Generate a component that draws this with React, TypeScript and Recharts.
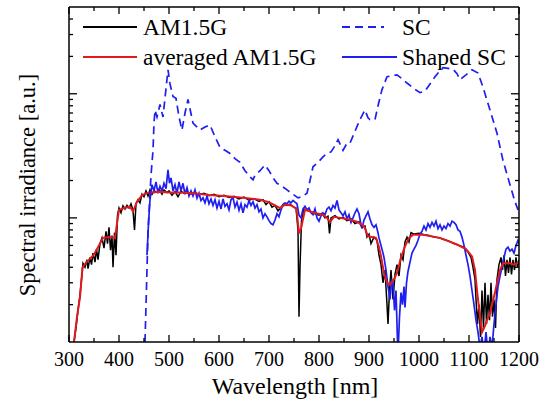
import React from 'react';
import { LineChart, Line, XAxis, YAxis } from 'recharts';

// AM1.5G reference spectrum (noisy)
const amWl = [310, 314, 318, 322, 326, 328, 332, 336, 338, 342, 345, 348, 352, 355, 358, 362, 366, 370, 374, 377, 380, 383, 386, 388, 391, 394, 397, 400, 404, 408, 412, 416, 420, 424, 428, 431, 434, 438, 442, 446, 450, 454, 458, 462, 466, 470, 476, 480, 486, 490, 496, 500, 506, 512, 518, 524, 530, 536, 544, 552, 560, 570, 580, 590, 600, 610, 620, 630, 640, 650, 660, 670, 680, 688, 694, 700, 706, 712, 718, 724, 730, 736, 742, 748, 754, 758, 760, 762, 765, 770, 776, 784, 792, 800, 806, 812, 818, 821, 824, 832, 840, 848, 856, 864, 872, 880, 886, 892, 896, 900, 904, 910, 916, 920, 924, 928, 932, 936, 938, 941, 944, 948, 952, 956, 960, 964, 968, 972, 976, 980, 984, 990, 1000, 1010, 1020, 1030, 1040, 1050, 1060, 1070, 1080, 1090, 1098, 1104, 1108, 1112, 1114, 1117, 1120, 1123, 1126, 1129, 1132, 1135, 1138, 1141, 1144, 1147, 1150, 1153, 1156, 1160, 1164, 1167, 1170, 1173, 1176, 1179, 1182, 1185, 1188, 1191, 1194, 1197, 1200];
const amVal = [1.0, 1.3, 1.8, 2.4, 3.5, 4.3, 4.0, 4.6, 3.9, 4.8, 4.2, 5.2, 4.4, 5.6, 4.6, 6.2, 6.9, 5.7, 7.8, 6.2, 8.4, 5.5, 7.2, 4.0, 7.6, 5.0, 10.5, 12.0, 11.0, 12.5, 11.8, 12.6, 12.0, 13.0, 11.5, 8.0, 13.0, 14.0, 13.2, 15.5, 14.8, 16.5, 15.0, 16.8, 15.5, 16.6, 16.0, 17.0, 15.5, 16.8, 16.0, 16.5, 15.2, 16.3, 14.8, 16.4, 15.8, 16.2, 15.6, 16.0, 15.4, 15.8, 15.1, 15.5, 14.8, 15.2, 14.6, 14.9, 14.2, 14.7, 13.9, 14.3, 13.6, 14.0, 12.8, 13.5, 12.2, 12.6, 11.4, 12.2, 13.0, 12.6, 12.9, 12.3, 12.0, 8.0, 1.6, 4.0, 9.5, 11.8, 11.5, 11.2, 10.8, 10.5, 10.9, 10.0, 10.3, 7.5, 10.0, 10.4, 9.8, 10.1, 9.5, 9.8, 9.0, 9.3, 8.4, 8.6, 7.0, 7.4, 6.2, 7.0, 6.6, 5.0, 4.2, 3.0, 3.8, 2.0, 1.4, 2.6, 3.8, 2.2, 3.5, 4.2, 3.4, 5.0, 4.6, 6.4, 7.0, 6.4, 7.6, 7.4, 7.5, 7.3, 7.2, 7.0, 6.9, 6.7, 6.5, 6.2, 6.0, 5.8, 5.3, 4.8, 4.0, 3.2, 2.2, 1.4, 2.0, 1.1, 2.6, 1.3, 3.0, 1.4, 2.4, 1.5, 3.0, 1.6, 2.2, 1.3, 3.2, 4.2, 4.8, 3.8, 5.0, 3.4, 4.6, 3.6, 4.8, 3.5, 4.6, 3.8, 4.8, 4.0, 4.6];

// averaged AM1.5G
const avgWl = [310, 316, 322, 327, 335, 349, 358, 368, 380, 392, 396, 400, 410, 422, 428, 436, 446, 456, 480, 500, 520, 548, 580, 610, 648, 682, 700, 712, 722, 732, 745, 755, 760, 764, 772, 790, 808, 816, 822, 830, 842, 860, 876, 890, 898, 914, 920, 924, 930, 936, 942, 950, 956, 964, 972, 980, 988, 1008, 1042, 1076, 1094, 1106, 1112, 1116, 1122, 1126, 1132, 1136, 1142, 1146, 1152, 1156, 1162, 1168, 1182, 1190, 1200];
const avgVal = [1.0, 1.6, 2.3, 4.0, 4.4, 5.0, 5.8, 6.9, 7.0, 6.9, 9.0, 11.6, 12.0, 12.3, 11.3, 13.5, 15.2, 15.9, 16.2, 16.0, 16.0, 15.8, 15.3, 15.0, 14.5, 14.0, 13.4, 12.6, 12.0, 12.8, 12.6, 11.8, 7.5, 8.2, 11.6, 11.0, 10.6, 10.0, 9.3, 10.2, 10.0, 9.7, 9.3, 8.6, 7.1, 6.9, 5.8, 4.9, 3.6, 3.0, 2.9, 3.2, 3.6, 4.8, 5.9, 6.9, 7.3, 7.3, 6.9, 6.1, 5.6, 4.9, 3.8, 2.6, 1.6, 1.2, 1.35, 1.5, 1.7, 2.0, 2.5, 3.0, 3.8, 4.3, 4.3, 4.2, 4.4];

// SC (dashed)
const scWl = [452, 458, 464, 468, 470, 472, 476, 482, 488, 494, 498, 502, 508, 514, 520, 526, 532, 538, 548, 562, 572, 582, 592, 602, 612, 622, 632, 642, 652, 662, 668, 672, 682, 692, 700, 708, 716, 726, 736, 748, 758, 766, 776, 782, 788, 798, 808, 816, 824, 830, 838, 848, 856, 862, 872, 882, 892, 898, 902, 912, 918, 926, 936, 946, 956, 966, 976, 990, 1002, 1012, 1022, 1032, 1040, 1048, 1058, 1068, 1076, 1082, 1094, 1106, 1118, 1128, 1142, 1156, 1168, 1182, 1192, 1198];
const scVal = [1.0, 7.6, 22, 35, 58, 74, 65, 82, 65, 110, 156, 120, 95, 92, 65, 51, 70, 90, 58, 51, 54, 56, 45, 37, 35, 33, 30, 28, 24, 21.4, 20.3, 22, 24, 26.7, 24, 21, 19, 18, 16.8, 15.5, 14.5, 14.8, 15.8, 20, 25.8, 28, 31, 33, 34, 37, 42.6, 35, 40, 40, 50, 62, 74, 64, 62, 62, 80, 108, 137, 140, 142, 132, 122, 110, 102, 105, 120, 137, 150, 162, 160, 158, 145, 130, 142, 156, 147, 113, 74, 48, 29, 18.5, 13.5, 11.6];

// Shaped SC
const shWl = [456, 459, 462, 466, 470, 474, 478, 482, 486, 490, 494, 498, 501, 504, 508, 512, 516, 520, 524, 528, 532, 536, 540, 544, 548, 552, 556, 560, 564, 568, 572, 576, 580, 584, 588, 592, 596, 600, 604, 608, 612, 616, 620, 624, 628, 632, 636, 640, 644, 648, 652, 656, 660, 664, 668, 672, 676, 680, 684, 688, 692, 696, 700, 704, 708, 712, 716, 720, 724, 728, 732, 736, 740, 744, 748, 752, 756, 760, 764, 768, 772, 776, 780, 784, 788, 792, 796, 800, 804, 808, 812, 816, 820, 824, 828, 832, 836, 840, 844, 848, 852, 856, 860, 864, 868, 872, 876, 880, 884, 886, 890, 894, 898, 902, 906, 910, 914, 918, 920, 924, 928, 930, 934, 938, 942, 945, 948, 951, 954, 957, 958, 961, 964, 967, 970, 972, 975, 978, 982, 986, 990, 994, 998, 1002, 1006, 1010, 1014, 1018, 1022, 1026, 1030, 1034, 1038, 1042, 1046, 1050, 1054, 1058, 1062, 1066, 1070, 1074, 1078, 1082, 1086, 1090, 1094, 1098, 1102, 1106, 1110, 1114, 1118, 1122, 1126, 1130, 1134, 1138, 1142, 1146, 1150, 1154, 1158, 1162, 1166, 1170, 1174, 1178, 1182, 1186, 1190, 1194, 1198, 1200];
const shVal = [5.0, 9, 14.0, 18.5, 16.5, 19.5, 15.8, 18.0, 16.5, 19.0, 17.2, 24.4, 19.0, 21.0, 16.5, 18.5, 15.8, 19.5, 16.5, 19.0, 15.5, 17.5, 15.0, 16.5, 15.0, 16.8, 14.4, 15.8, 13.8, 14.5, 13.2, 15.0, 13.0, 14.2, 12.6, 14.0, 12.0, 13.6, 11.8, 14.2, 12.4, 13.0, 11.6, 14.0, 14.6, 12.2, 13.4, 11.5, 13.0, 11.0, 12.8, 12.2, 13.8, 12.6, 13.5, 12.0, 12.8, 11.2, 11.8, 10.0, 10.8, 10.2, 9.5, 9.0, 8.8, 9.6, 10.8, 10.2, 11.6, 12.8, 13.2, 13.0, 13.6, 13.2, 13.8, 13.4, 13.0, 10.5, 10.0, 11.8, 12.4, 11.6, 12.0, 11.0, 10.6, 11.8, 10.0, 9.4, 10.4, 11.0, 10.6, 11.8, 12.2, 11.4, 12.6, 12.0, 13.8, 11.6, 11.0, 10.4, 11.2, 9.8, 10.6, 9.2, 10.0, 11.0, 11.8, 10.8, 8.8, 8.2, 9.6, 10.4, 11.2, 9.8, 8.8, 8.4, 8.8, 7.6, 6.9, 6.0, 5.2, 4.8, 3.8, 2.8, 2.2, 3.2, 3.0, 1.8, 2.6, 1.0, 0.8, 1.6, 2.5, 2.0, 2.8, 1.9, 3.0, 3.7, 4.4, 5.2, 5.6, 6.0, 6.6, 7.4, 7.8, 8.6, 8.0, 9.0, 8.4, 9.2, 8.6, 9.4, 8.2, 8.8, 8.0, 8.6, 8.2, 9.0, 8.6, 9.4, 9.2, 8.8, 8.0, 7.8, 7.0, 6.0, 5.0, 4.2, 3.4, 2.6, 2.0, 1.5, 1.2, 0.9, 1.1, 0.8, 1.2, 0.8, 1.1, 0.9, 1.4, 2.0, 2.8, 3.4, 4.0, 4.8, 5.6, 5.8, 5.4, 5.6, 5.2, 6.0, 6.6, 6.2];

const xTicks = [300, 350, 400, 450, 500, 550, 600, 650, 700, 750, 800, 850, 900, 950, 1000, 1050, 1100, 1150, 1200];
const yTicks = [2, 3, 4, 5, 6, 7, 8, 9, 10, 20, 30, 40, 50, 60, 70, 80, 90, 100, 200, 300, 400];

const zip = (wl: number[], val: number[]) => wl.map((w, i) => ({ w, v: val[i] }));
const amData = zip(amWl, amVal);
const avgData = zip(avgWl, avgVal);
const scData = zip(scWl, scVal);
const shData = zip(shWl, shVal);

const FONT = 'Liberation Serif, Times New Roman, Times, serif';
const serif = { fontFamily: FONT };
const isMajorY = (v: number) => v === 10 || v === 100;

const BottomTick = (props: any) => {
  const { x, y, payload } = props;
  const major = payload.value % 100 === 0;
  return (
    <g>
      <line x1={x} x2={x} y1={y} y2={y - (major ? 7 : 4)} stroke="#000" strokeWidth={1.3} />
      {major && (
        <text x={x} y={y + 24} textAnchor="middle" fontSize={20} style={serif} fill="#000">
          {payload.value}
        </text>
      )}
    </g>
  );
};

const TopTick = (props: any) => {
  const { x, y, payload } = props;
  const major = payload.value % 100 === 0;
  return <line x1={x} x2={x} y1={y} y2={y + (major ? 7 : 4)} stroke="#000" strokeWidth={1.3} />;
};

const LeftTick = (props: any) => {
  const { x, y, payload } = props;
  return <line x1={x} x2={x + (isMajorY(payload.value) ? 8 : 4)} y1={y} y2={y} stroke="#000" strokeWidth={1.3} />;
};

const RightTick = (props: any) => {
  const { x, y, payload } = props;
  return <line x1={x} x2={x - (isMajorY(payload.value) ? 8 : 4)} y1={y} y2={y} stroke="#000" strokeWidth={1.3} />;
};

export default function App() {
  return (
    <div style={{ position: 'absolute', left: 0, top: 0, width: 547, height: 408, background: '#fff', fontFamily: FONT }}>
      <LineChart width={547} height={408} margin={{ top: 0, right: 0, bottom: 0, left: 0 }}>
        <XAxis
          dataKey="w"
          type="number"
          domain={[300, 1200]}
          ticks={xTicks}
          interval={0}
          height={66}
          tickSize={0}
          tickMargin={0}
          tick={<BottomTick />}
          axisLine={{ stroke: '#000', strokeWidth: 1.5 }}
          allowDataOverflow
        />
        <XAxis
          xAxisId="top"
          orientation="top"
          dataKey="w"
          type="number"
          domain={[300, 1200]}
          ticks={xTicks}
          interval={0}
          height={7}
          tickSize={0}
          tickMargin={0}
          tick={<TopTick />}
          axisLine={{ stroke: '#000', strokeWidth: 1.5 }}
          allowDataOverflow
        />
        <YAxis
          dataKey="v"
          type="number"
          scale="log"
          domain={[1, 500]}
          ticks={yTicks}
          interval={0}
          width={69}
          tickSize={0}
          tickMargin={0}
          tick={<LeftTick />}
          axisLine={{ stroke: '#000', strokeWidth: 1.5 }}
          allowDataOverflow
        />
        <YAxis
          yAxisId="right"
          orientation="right"
          type="number"
          scale="log"
          domain={[1, 500]}
          ticks={yTicks}
          interval={0}
          width={28}
          tickSize={0}
          tickMargin={0}
          tick={<RightTick />}
          axisLine={{ stroke: '#000', strokeWidth: 1.5 }}
          allowDataOverflow
        />
        <Line data={amData} dataKey="v" stroke="#000" strokeWidth={1.5} dot={false} isAnimationActive={false} />
        <Line data={shData} dataKey="v" stroke="#1f1ff0" strokeWidth={1.7} dot={false} isAnimationActive={false} />
        <Line data={avgData} dataKey="v" stroke="#e01a1f" strokeWidth={2} dot={false} isAnimationActive={false} />
        <Line data={scData} dataKey="v" stroke="#1f1ff0" strokeWidth={1.7} strokeDasharray="8 5" dot={false} isAnimationActive={false} />
      </LineChart>
      <svg width={547} height={408} style={{ position: 'absolute', left: 0, top: 0, pointerEvents: 'none' }}>
        <g fontSize={23.5} fill="#000" style={serif}>
          <line x1={83} x2={137} y1={27} y2={27} stroke="#000" strokeWidth={2} />
          <text x={143} y={35}>AM1.5G</text>
          <line x1={83} x2={137} y1={57} y2={57} stroke="#e01a1f" strokeWidth={2} />
          <text x={143} y={65}>averaged AM1.5G</text>
          <line x1={342} x2={384} y1={27} y2={27} stroke="#1f1ff0" strokeWidth={2} strokeDasharray="8 5" />
          <text x={402} y={35}>SC</text>
          <line x1={342} x2={397} y1={57} y2={57} stroke="#1f1ff0" strokeWidth={2} />
          <text x={402} y={65}>Shaped SC</text>
        </g>
        <text x={295} y={394} textAnchor="middle" fontSize={24} fill="#000" style={serif}>
          Wavelength [nm]
        </text>
        <text
          x={0}
          y={0}
          transform="translate(35,185) rotate(-90)"
          textAnchor="middle"
          fontSize={22.5}
          fill="#000"
          style={serif}
        >
          Spectral irradiance [a.u.]
        </text>
      </svg>
    </div>
  );
}
